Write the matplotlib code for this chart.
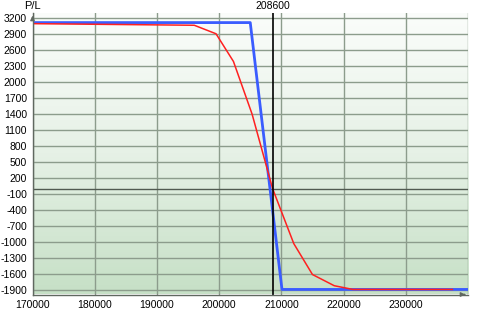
import numpy as np
import matplotlib
matplotlib.use("Agg")
import matplotlib.pyplot as plt
from matplotlib.colors import LinearSegmentedColormap

plt.rcParams['font.family'] = ['Liberation Sans', 'DejaVu Sans']

# Data
blue_x = [170000, 205000, 210100, 240000]
blue_y = [3120, 3120, -1890, -1890]
red_x = [170000, 196000, 199500, 202300, 205300, 208600, 212000, 215000, 218500, 221500, 237500]
red_y = [3100, 3070, 2910, 2390, 1400, 0, -1030, -1610, -1820, -1890, -1890]
marker_x = 208600
x_ticks = [170000, 180000, 190000, 200000, 210000, 220000, 230000]
y_ticks = list(range(-1900, 3201, 300))

fig = plt.figure(figsize=(4.81, 3.14), dpi=100)
ax = fig.add_axes([32.5/481, (314-294.5)/314, (468-32.5)/481, (294.5-13)/314])

xmin, xmax = 170000, 240000
ymin, ymax = -1985, 3300
ax.set_xlim(xmin, xmax)
ax.set_ylim(ymin, ymax)

# gradient background (white at top, green at bottom)
cmap = LinearSegmentedColormap.from_list('g', ['#fbfdfb', '#e6f1e6', '#c6e0c6'])
grad = np.linspace(0, 1, 256).reshape(-1, 1)
ax.imshow(grad, extent=[0, 1, 0, 1], origin='upper', transform=ax.transAxes,
          aspect='auto', cmap=cmap, zorder=0, interpolation='bilinear')

for t in y_ticks:
    ax.axhline(t, color='#8c9c8c', lw=1.0, zorder=1)
for t in x_ticks:
    ax.axvline(t, color='#8c9c8c', lw=1.0, zorder=1)
ax.axvline(xmax, color='#8c9c8c', lw=1.0, zorder=1)
ax.axhline(0, color='#505a50', lw=1.0, zorder=2)

ax.plot(red_x, red_y, color='#ff2020', lw=1.1, zorder=4)
ax.plot(blue_x, blue_y, color='#3a5cff', lw=2.0, zorder=3)
ax.axvline(marker_x, color='black', lw=1.2, zorder=5)

ax.annotate(str(marker_x), xy=(marker_x, 1.0), xycoords=ax.get_xaxis_transform(),
            xytext=(0, 1.5), textcoords='offset points',
            ha='center', va='bottom', fontsize=7.5, annotation_clip=False)
ax.annotate('P/L', xy=(0, 1.0), xycoords='axes fraction',
            xytext=(0, 1.5), textcoords='offset points',
            ha='center', va='bottom', fontsize=8, annotation_clip=False)

ax.set_xticks(x_ticks)
ax.set_yticks(y_ticks)
ax.set_xticklabels([str(v) for v in x_ticks])
ax.set_yticklabels([str(v) for v in y_ticks])
ax.tick_params(axis='both', length=0, labelsize=7.5, pad=4, colors='black')

for s in ['top', 'right']:
    ax.spines[s].set_visible(False)
for s in ['left', 'bottom']:
    ax.spines[s].set_color('#606860')
    ax.spines[s].set_linewidth(1.0)
    ax.spines[s].set_zorder(6)

# axis arrows
ax.annotate('', xy=(0, 1.0), xytext=(0, 0.97), xycoords='axes fraction',
            arrowprops=dict(arrowstyle='-|>', color='#606860', lw=1, mutation_scale=6), annotation_clip=False)
ax.annotate('', xy=(1.0, 0), xytext=(0.985, 0), xycoords='axes fraction',
            arrowprops=dict(arrowstyle='-|>', color='#606860', lw=1, mutation_scale=6), annotation_clip=False)

fig.patch.set_facecolor('white')
fig.savefig('out.png', dpi=100)
